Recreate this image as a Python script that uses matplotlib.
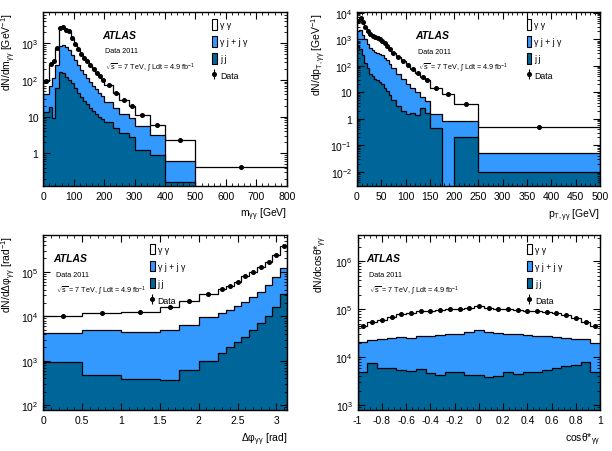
import numpy as np
import matplotlib
matplotlib.use('Agg')
import matplotlib.pyplot as plt
from matplotlib.patches import Patch
from matplotlib.lines import Line2D
from matplotlib.legend_handler import HandlerTuple
from matplotlib.ticker import FuncFormatter, AutoMinorLocator, LogLocator, MultipleLocator

plt.rcParams['font.family'] = ['Liberation Sans', 'DejaVu Sans']
plt.rcParams['mathtext.fontset'] = 'custom'
plt.rcParams['mathtext.rm'] = 'Liberation Sans'
plt.rcParams['mathtext.it'] = 'Liberation Sans:italic'
plt.rcParams['mathtext.bf'] = 'Liberation Sans:bold'

# ---- m_gg ----
mgg_edges = [0, 20, 30, 40, 50, 60, 70, 80, 90, 100, 110, 120, 130, 140, 150, 160,
             170, 180, 190, 200, 230, 250, 280, 300, 350, 400, 500, 800]
mgg_total = [92, 280, 330, 750, 2600, 2800, 2300, 2100, 1400, 950, 680, 500, 400, 320,
             250, 200, 155, 125, 100, 72, 45, 28, 20, 11.3, 5.9, 2.3, 0.42]
mgg_bkg = [42, 70, 110, 250, 850, 900, 780, 650, 470, 340, 250, 190, 145, 115, 90, 70,
           56, 45, 37, 25, 17, 12, 9, 5.7, 3.2, 0.6, 0]
mgg_jj = [13, 18, 9, 60, 160, 150, 120, 100, 80, 60, 45, 35, 27, 22, 17, 14, 11.5,
          9.5, 8.5, 7, 5, 3.6, 2.8, 1.2, 0.9, 0.16, 0]

# ---- pT_gg ----
pt_edges = [0, 5, 10, 15, 20, 25, 30, 35, 40, 45, 50, 55, 60, 65, 70, 80, 90, 100,
            110, 120, 130, 140, 150, 175, 200, 250, 500]
pt_total = [5000, 6500, 4500, 3000, 2100, 1600, 1350, 1200, 1100, 1000, 850, 700, 550,
            420, 300, 210, 150, 110, 75, 52, 38, 28, 14, 8.5, 3.5, 0.5]
pt_bkg = [2000, 2300, 1500, 1000, 650, 480, 400, 330, 300, 280, 250, 200, 160, 120, 80,
          50, 32, 20, 14, 10, 6.5, 4.5, 1.5, 0.85, 0.8, 0.05]
pt_jj = [550, 450, 250, 130, 80, 50, 40, 32, 28, 25, 20, 15, 11, 8, 5, 3, 2, 1.5, 1.6,
         1.4, 2.5, 1.6, 0.45, 0, 0.2, 0.01]

# ---- delta phi ----
dphi_edges = [0, 0.5, 1.0, 1.5, 1.75, 2.0, 2.25, 2.35, 2.45, 2.55, 2.65, 2.75, 2.85,
              2.95, 3.05, np.pi]
dphi_total = [10300, 11900, 12700, 16200, 22000, 31000, 41000, 49000, 60000, 80000,
              100000, 130000, 170000, 240000, 390000]
dphi_bkg = [4200, 4800, 4400, 5000, 6500, 9500, 12000, 14000, 17000, 21000, 27000,
            35000, 50000, 75000, 125000]
dphi_jj = [920, 480, 390, 360, 630, 1000, 1500, 2000, 2700, 3500, 5000, 7000, 10000,
           16000, 32000]

# ---- cos theta* ----
cos_edges = np.linspace(-1, 1, 26)
cos_total = [45000, 53000, 60000, 70000, 78000, 85000, 90000, 93000, 95000, 100000,
             103000, 108000, 115000, 108000, 103000, 100000, 96000, 93000, 92000,
             88000, 82000, 75000, 66000, 55000, 44000]
cos_bkg = [21000, 23000, 24000, 25000, 26000, 25500, 27000, 28000, 29000, 30000, 31000,
           33000, 36000, 34000, 32000, 31000, 30000, 29000, 28000, 27000, 26000, 25000,
           24000, 23500, 20000]
cos_jj = [5000, 7400, 6000, 5800, 5500, 5200, 5600, 4600, 4200, 5000, 4800, 4300, 4200,
          3900, 4100, 4800, 4400, 4800, 5000, 5500, 6000, 6500, 7000, 7800, 4800]

light = '#3399ff'
dark = '#006699'


def logfmt(v, pos):
    n = int(round(np.log10(v)))
    if n == 0:
        return '1'
    if n == 1:
        return '10'
    return r'$10^{%d}$' % n


def panel(ax, edges, total, bkg, jj, ylim):
    edges = np.asarray(edges, float)
    floor = ylim[0] * 1e-3
    for vals, col in [(total, 'white'), (bkg, light), (jj, dark)]:
        v = np.clip(np.asarray(vals, float), floor, None)
        ax.stairs(v, edges, baseline=floor, fill=True, color=col, lw=0)
        ax.stairs(v, edges, baseline=floor, color='k', lw=0.9)
    centers = 0.5 * (edges[1:] + edges[:-1])
    ax.plot(centers, total, 'o', color='k', ms=2.6, zorder=5)
    ax.set_yscale('log')
    ax.set_xlim(edges[0], edges[-1])
    ax.set_ylim(*ylim)
    ax.yaxis.set_major_locator(LogLocator(base=10))
    ax.yaxis.set_minor_locator(LogLocator(base=10, subs=np.arange(2, 10)))
    ax.yaxis.set_major_formatter(FuncFormatter(logfmt))
    ax.tick_params(which='both', direction='in', top=True, right=True, labelsize=7.5)
    ax.tick_params(which='major', length=5, width=0.8)
    ax.tick_params(which='minor', length=2.5, width=0.6)
    for s in ax.spines.values():
        s.set_linewidth(1.0)


def texts(ax, x, y, lx, ly):
    ax.text(x, y, 'ATLAS', transform=ax.transAxes, fontsize=7.5, weight='bold',
            style='italic', va='center')
    ax.text(x + 0.013, y - 0.093, 'Data 2011', transform=ax.transAxes, fontsize=5.2,
            va='center')
    ax.text(x + 0.013, y - 0.183, r'$\sqrt{\mathrm{s}}$ = 7 TeV, $\int$ Ldt = 4.9 fb$^{-1}$',
            transform=ax.transAxes, fontsize=5.2, va='center')
    dot = Line2D([0], [0], marker='o', color='k', ms=2.6, lw=0)
    bar = Line2D([0], [0], marker='|', color='k', ms=7, lw=0, mew=0.8)
    handles = [Patch(facecolor='white', edgecolor='k', lw=0.8),
               Patch(facecolor=light, edgecolor='k', lw=0.8),
               Patch(facecolor=dark, edgecolor='k', lw=0.8),
               (bar, dot)]
    ax.legend(handles, ['γ γ', 'γ j + j γ', 'j j', 'Data'], loc='upper left',
              bbox_to_anchor=(lx, ly), frameon=False, fontsize=6.3,
              handlelength=0.55, handleheight=1.45, handletextpad=0.35,
              labelspacing=0.75, borderpad=0,
              handler_map={tuple: HandlerTuple(ndivide=1, pad=0)})


fig = plt.figure(figsize=(6.12, 4.52), dpi=100)

ax1 = fig.add_axes([0.0708, 0.587, 0.3977, 0.3836])
panel(ax1, mgg_edges, mgg_total, mgg_bkg, mgg_jj, (0.13, 7000))
ax1.xaxis.set_major_locator(MultipleLocator(100))
ax1.xaxis.set_minor_locator(AutoMinorLocator(5))
ax1.set_xlabel(r'm$_{\mathrm{γγ}}$ [GeV]', loc='right', fontsize=7.5)
ax1.set_ylabel(r'dN/dm$_{\mathrm{γγ}}$ [GeV$^{-1}$]', loc='top', fontsize=7.5)
texts(ax1, 0.24, 0.87, 0.675, 0.985)

ax2 = fig.add_axes([0.5833, 0.5856, 0.397, 0.385])
panel(ax2, pt_edges, pt_total, pt_bkg, pt_jj, (0.0028, 10500))
ax2.xaxis.set_major_locator(MultipleLocator(50))
ax2.xaxis.set_minor_locator(AutoMinorLocator(5))
ax2.set_xlabel(r'p$_{\mathrm{T,γγ}}$ [GeV]', loc='right', fontsize=7.5)
ax2.set_ylabel(r'dN/dp$_{\mathrm{T,γγ}}$ [GeV$^{-1}$]', loc='top', fontsize=7.5)
texts(ax2, 0.24, 0.87, 0.68, 0.985)

ax3 = fig.add_axes([0.0708, 0.0907, 0.3987, 0.387])
panel(ax3, dphi_edges, dphi_total, dphi_bkg, dphi_jj, (78, 6.7e5))
ax3.xaxis.set_major_locator(MultipleLocator(0.5))
ax3.xaxis.set_minor_locator(AutoMinorLocator(5))
ax3.xaxis.set_major_formatter(FuncFormatter(lambda v, p: '%g' % v))
ax3.set_xlabel(r'Δφ$_{\mathrm{γγ}}$ [rad]', loc='right', fontsize=7.5)
ax3.set_ylabel(r'dN/dΔφ$_{\mathrm{γγ}}$ [rad$^{-1}$]', loc='top', fontsize=7.5)
texts(ax3, 0.04, 0.87, 0.418, 0.975)

ax4 = fig.add_axes([0.5845, 0.0907, 0.396, 0.387])
panel(ax4, cos_edges, cos_total, cos_bkg, cos_jj, (790, 3.5e6))
ax4.xaxis.set_major_locator(MultipleLocator(0.2))
ax4.xaxis.set_minor_locator(AutoMinorLocator(4))
ax4.xaxis.set_major_formatter(FuncFormatter(lambda v, p: '%g' % round(v, 2)))
ax4.set_xlabel(r'cosθ*$_{\mathrm{γγ}}$', loc='right', fontsize=7.5)
ax4.set_ylabel(r'dN/dcosθ*$_{\mathrm{γγ}}$', loc='top', fontsize=7.5)
texts(ax4, 0.035, 0.87, 0.68, 0.975)

for ax in (ax1, ax3):
    ax.yaxis.set_label_coords(-0.105, 1.0)
for ax in (ax2, ax4):
    ax.yaxis.set_label_coords(-0.12, 1.0)

fig.savefig('out.png', dpi=100)
